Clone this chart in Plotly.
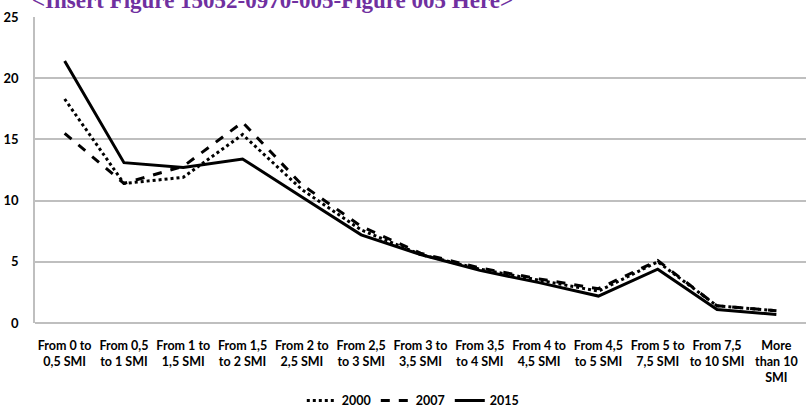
import plotly.graph_objects as go

categories = ["From 0 to<br>0,5 SMI", "From 0,5<br>to 1 SMI", "From 1 to<br>1,5 SMI", "From 1,5<br>to 2 SMI",
              "From 2 to<br>2,5 SMI", "From 2,5<br>to 3 SMI", "From 3 to<br>3,5 SMI", "From 3,5<br>to 4 SMI",
              "From 4 to<br>4,5 SMI", "From 4,5<br>to 5 SMI", "From 5 to<br>7,5 SMI", "From 7,5<br>to 10 SMI",
              "More<br>than 10<br>SMI"]
y2000 = [18.3, 11.4, 11.9, 15.4, 10.9, 7.6, 5.6, 4.4, 3.5, 2.6, 5.0, 1.4, 1.0]
y2007 = [15.5, 11.4, 12.8, 16.4, 11.3, 7.9, 5.7, 4.5, 3.6, 2.8, 5.1, 1.4, 1.0]
y2015 = [21.4, 13.1, 12.7, 13.4, 10.3, 7.2, 5.6, 4.3, 3.3, 2.2, 4.4, 1.1, 0.7]
yticks = [0, 5, 10, 15, 20, 25]

series = [("2000", y2000, "dot"), ("2007", y2007, "dash"), ("2015", y2015, "solid")]

fig = go.Figure()
for name, vals, dash in series:
    fig.add_trace(go.Scatter(x=categories, y=vals, mode="lines", name=name,
                             line=dict(color="black", width=3, dash=dash)))

# title sits partly above the page edge, as in the source
fig.add_annotation(text="<b>&lt;Insert Figure 15052-0970-005-Figure 005 Here&gt;</b>",
                   xref="paper", yref="paper", x=0, y=1, xanchor="left", yanchor="bottom",
                   xshift=-5, yshift=2, showarrow=False,
                   font=dict(family="Liberation Serif", size=23, color="#7030A0"))

fig.update_layout(
    width=806, height=409,
    margin=dict(l=35, r=0, t=17, b=86, autoexpand=False),
    paper_bgcolor="white", plot_bgcolor="white",
    font=dict(family="Lato", size=12, color="black"),
    showlegend=True,
    legend=dict(orientation="h", xanchor="center", x=0.49, yref="container", y=0.02,
                yanchor="middle", font=dict(family="Lato", size=12.5, weight="bold"),
                itemwidth=30, tracegroupgap=0),
)
fig.update_xaxes(range=[-0.5, 12.5], showgrid=False, showline=False, ticks="", tickangle=0,
                 automargin=False, ticklabelstandoff=13,
                 tickfont=dict(family="Lato", size=12.5, weight="bold"))
fig.update_yaxes(range=[0, 25], tickvals=yticks, showgrid=True, gridcolor="#bfbfbf", gridwidth=1.5,
                 showline=True, linecolor="#bfbfbf", linewidth=1.5, zeroline=True,
                 zerolinecolor="#bfbfbf", zerolinewidth=1.5, ticks="", ticklabelstandoff=12,
                 automargin=False, tickfont=dict(family="Lato", size=13, weight="bold"))

fig.write_html("out.html", config=dict(displayModeBar=False),
               post_script="document.body.style.margin='0';")
